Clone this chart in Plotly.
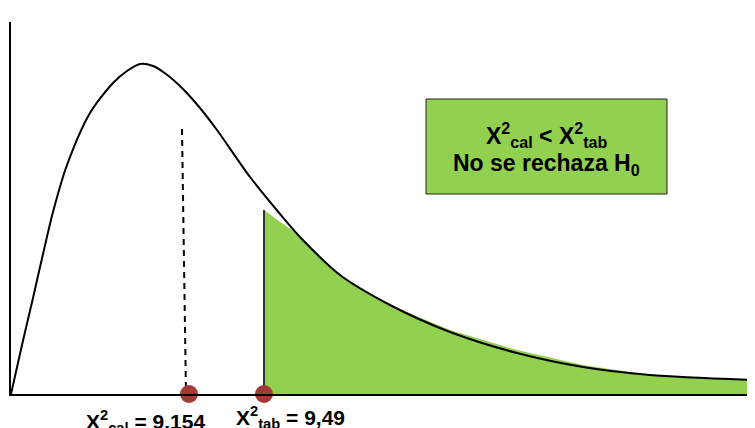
import plotly.graph_objects as go

# Schematic chi-square density curve (abstract units)
curve_x = [0, 11, 22, 32, 42, 56, 79, 102, 116, 129, 142, 155, 172, 189, 206, 239, 269, 289, 329, 379, 439, 506, 572, 639, 744]
curve_y = [0, 49, 96, 140, 182, 229, 281, 311, 323, 330, 328, 320, 305, 286, 264, 217, 180, 157, 119, 89, 62, 41, 27, 19, 14]

# Rejection region (green) outline
fill_x = [253, 253, 269, 284, 329, 379, 439, 506, 572, 639, 744, 744]
fill_y = [0, 184, 172, 162, 119, 89, 64, 44, 29, 19, 14, 0]

# Critical / calculated statistic markers
chi_cal_pos = 178
chi_tab_pos = 253
dash_x = [171, 175]
dash_y = [265, 0]
crit_top = 184

label_cal = "<b>X<sup>2</sup><sub>cal</sub> = 9.154</b>"
label_tab = "<b>X<sup>2</sup><sub>tab</sub> = 9,49</b>"
box_line1 = "<b>X<sup>2</sup><sub>cal</sub> &lt; X<sup>2</sup><sub>tab</sub></b>"
box_line2 = "<b>No se rechaza H<sub>0</sub></b>"

GREEN = "#92D050"
DOT = "#A23A35"
FONT = "Liberation Sans, Arial, sans-serif"

fig = go.Figure()
fig.add_trace(go.Scatter(x=fill_x, y=fill_y, fill="toself", fillcolor=GREEN,
                         line=dict(width=0), mode="lines", hoverinfo="skip"))
fig.add_trace(go.Scatter(x=[chi_tab_pos, chi_tab_pos], y=[0, crit_top], mode="lines",
                         line=dict(color="#333333", width=2)))
fig.add_trace(go.Scatter(x=curve_x, y=curve_y, mode="lines",
                         line=dict(color="black", width=2, shape="spline", smoothing=0.8)))
fig.add_trace(go.Scatter(x=dash_x, y=dash_y, mode="lines",
                         line=dict(color="black", width=2, dash="6px,5px")))
fig.add_trace(go.Scatter(x=[chi_cal_pos, chi_tab_pos], y=[0, 0], mode="markers",
                         marker=dict(color=DOT, size=18), cliponaxis=False))

fig.add_annotation(x=134, y=-0.074, xref="x", yref="paper", text=label_cal, showarrow=False,
                   font=dict(family=FONT, size=21, color="black"), yanchor="middle")
fig.add_annotation(x=279, y=-0.063, xref="x", yref="paper", text=label_tab, showarrow=False,
                   font=dict(family=FONT, size=21, color="black"), yanchor="middle")

fig.add_shape(type="rect", xref="x", yref="y", x0=415, x1=656, y0=200, y1=295,
              fillcolor=GREEN, line=dict(color="#222222", width=1), layer="above")
fig.add_annotation(x=535, y=259, xref="x", yref="y", text=box_line1, showarrow=False,
                   font=dict(family=FONT, size=23, color="black"), yanchor="middle")
fig.add_annotation(x=535, y=230, xref="x", yref="y", text=box_line2, showarrow=False,
                   font=dict(family=FONT, size=23, color="black"), yanchor="middle")

fig.update_layout(
    width=755, height=428, showlegend=False,
    margin=dict(l=3, r=8, t=14, b=42),
    plot_bgcolor="white", paper_bgcolor="white",
    xaxis=dict(range=[0, 744], showgrid=False, zeroline=False, showticklabels=False,
               ticks="", showline=True, linecolor="black", linewidth=2),
    yaxis=dict(range=[0, 372], showgrid=False, zeroline=False, showticklabels=False,
               ticks="", showline=True, linecolor="black", linewidth=2),
)
fig.write_html("out.html")
